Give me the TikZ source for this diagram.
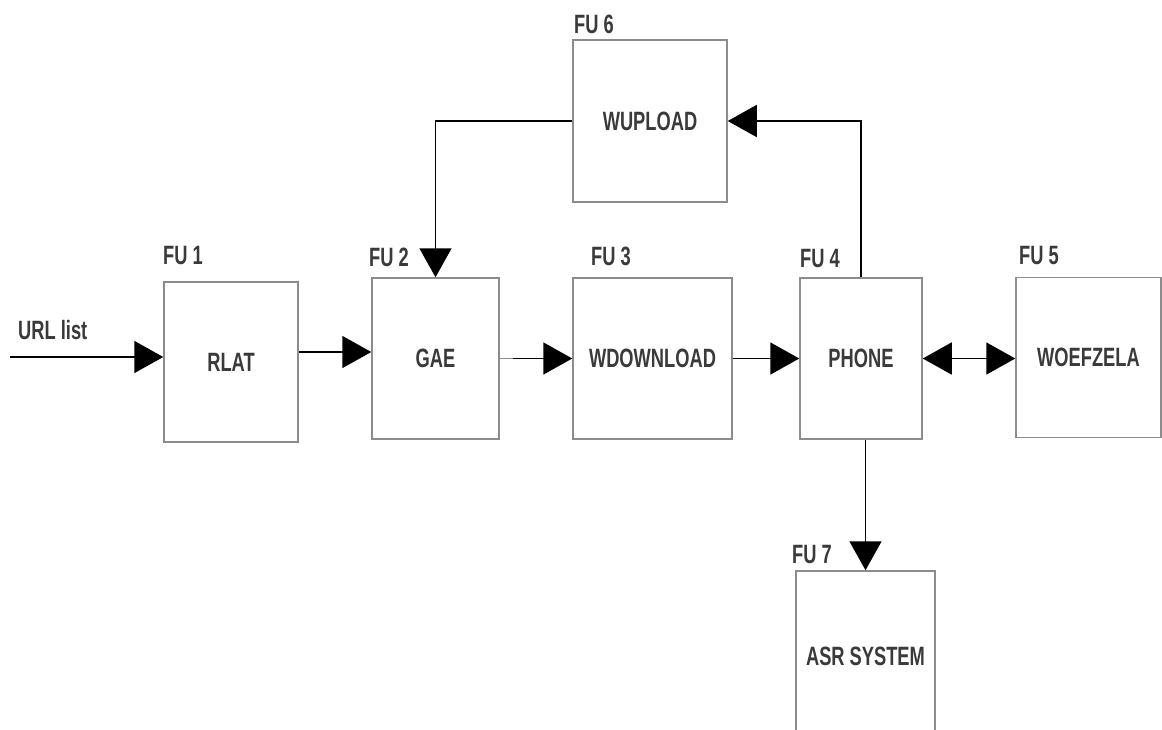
\documentclass[tikz,border=0pt]{standalone}
\usepackage{fontspec}
\newfontfamily\labfont[FakeStretch=0.69]{Liberation Sans}
\usetikzlibrary{arrows.meta,calc}
\definecolor{boxline}{HTML}{8C8C8C}
\definecolor{labtext}{HTML}{3A3A3A}
\tikzset{
  unitbox/.style={draw=boxline, line width=1.5pt, rectangle, inner sep=0pt,
    font=\labfont\bfseries\fontsize{26.5}{30}\selectfont, text=labtext},
  fulabel/.style={anchor=west, inner sep=0pt,
    font=\labfont\bfseries\fontsize{26.5}{30}\selectfont, text=labtext},
  conn/.style={draw=black, line width=1.6pt, -{Triangle[length=29pt,width=32pt]}},
  biconn/.style={draw=black, line width=1.6pt,
    {Triangle[length=29pt,width=32pt]}-{Triangle[length=29pt,width=32pt]}},
}
\begin{document}
\begin{tikzpicture}[x=1pt,y=-1pt]
  \useasboundingbox (0,0) rectangle (1162,729);
  \clip (0,0) rectangle (1162,729);
  \fill[white] (0,0) rectangle (1162,729);

  % functional units
  \node[unitbox, minimum width=134pt, minimum height=160pt] (rlat) at (231,362) {RLAT};
  \node[unitbox, minimum width=127pt, minimum height=161pt] (gae)  at (435.5,358.5) {GAE};
  \node[unitbox, minimum width=159pt, minimum height=161pt] (wdl)  at (652.5,358.5) {WDOWNLOAD};
  \node[unitbox, minimum width=122pt, minimum height=161pt] (phone) at (861,358.5) {PHONE};
  \node[unitbox, minimum width=145pt, minimum height=160pt, text width=145pt, align=center] (woef) at (1088.5,357.5) {WOEFZELA};
  \node[unitbox, minimum width=154pt, minimum height=162pt] (wup) at (650,121) {WUPLOAD};
  \node[unitbox, minimum width=139pt, minimum height=170pt] (asr) at (865.5,656) {ASR SYSTEM};

  % unit numbers
  \node[fulabel] (fu1) at (163,256) {FU 1};
  \node[fulabel] (fu2) at (369,257) {FU 2};
  \node[fulabel] (fu3) at (591,256) {FU 3};
  \node[fulabel] (fu4) at (800,259) {FU 4};
  \node[fulabel] (fu5) at (1019,256) {FU 5};
  \node[fulabel] (fu6) at (574,24) {FU 6};
  \node[fulabel] (fu7) at (792,555) {FU 7};
  \node[fulabel] (url) at (18,330) {URL list};

  % connectors
  \coordinate (urlin) at (10,357);
  \draw[conn] (urlin) -- (urlin -| rlat.west);

  \coordinate (r1) at ([yshift=10pt]rlat.east);
  \draw[conn] (r1) -- (r1 -| gae.west);

  \coordinate (g1) at ([xshift=13pt]gae.east);
  \draw[draw=boxline, line width=1.6pt] (gae.east) -- (g1);
  \draw[conn] (g1) -- (g1 -| wdl.west);

  \draw[conn] (wdl.east) -- (wdl.east -| phone.west);
  \draw[biconn] (phone.east) -- (phone.east -| woef.west);

  \draw[conn] (phone.north) |- (wup.east);
  \draw[conn] (wup.west) -| (gae.north);

  \coordinate (p1) at (phone.south -| asr.north);
  \draw[conn] (p1) -- (asr.north);
\end{tikzpicture}
\end{document}
